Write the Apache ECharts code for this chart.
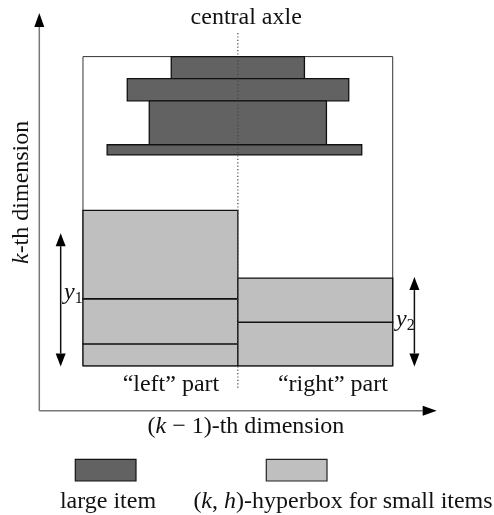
<!DOCTYPE html>
<html><head><meta charset="utf-8">
<script src="https://cdn.jsdelivr.net/npm/echarts@6/dist/echarts.min.js"></script>
<style>html,body{margin:0;padding:0;background:#fff}#c{width:494px;height:515px}</style>
</head><body><div id="c"></div>
<script>
// Diagram data (box coordinates: 0..100 in each dimension)
const box = [[0, 100, 0, 100]];
const axleX = 50;
const axleRange = [-7.1, 107.7];
// large items: [x0, x1, y0, y1]
const largeItems = [
  [28.5, 71.5, 92.9, 100],
  [14.3, 85.8, 85.7, 92.9],
  [21.4, 78.6, 71.5, 85.7],
  [7.8, 90.0, 68.2, 71.5]
];
// stacked small-item layers in the hyperbox (boundaries)
const leftStack = [0, 7.1, 21.7, 50.3];
const rightStack = [0, 14.1, 28.4];
// height arrows: [x, yBottom, yTop]
const heightArrows = [[-7.2, -0.2, 42.9], [107.0, -0.2, 28.7]];
// coordinate axes: [x0, y0, x1, y1]
const axesLines = [[-14.1, -14.5, 114.2, -14.5], [-14.1, -14.5, -14.1, 114.1]];
// text labels: [x, y, text, rotated]
const labelTexts = [
  [52.7, 112.5, 'central axle', 0],
  [28.4, -6.1, '\u201cleft\u201d part', 0],
  [80.7, -6.1, '\u201cright\u201d part', 0],
  [-3.1, 23.6, '{i|y}{s|1}', 0],
  [104.1, 14.9, '{i|y}{s|2}', 0],
  [52.6, -19.7, '({i|k} \u2212 1)-th dimension', 0],
  [-19.7, 56.1, '{i|k}-th dimension', 1]
];
const legendNames = ['large item', '({i|k}, {i|h})-hyperbox for small items'];

const DARK = '#626262', LIGHT = '#bfbfbf';
const FAM = '"Liberation Serif", "Times New Roman", "DejaVu Serif", serif', FS = 24;
const RICH = {
  i: {fontFamily: FAM, fontSize: FS, fontStyle: 'italic', fill: '#111'},
  s: {fontFamily: FAM, fontSize: 16, fill: '#111', verticalAlign: 'bottom', padding: [12, 0, 0, 0]}
};
function txtStyle(t) {
  return {text: t, fontFamily: FAM, fontSize: FS, fill: '#111', align: 'center', verticalAlign: 'middle', rich: RICH};
}

function stackRects(b, x0, x1) {
  const out = [];
  for (let i = 0; i < b.length - 1; i++) out.push([x0, x1, b[i], b[i + 1]]);
  return out;
}
const smallRects = stackRects(leftStack, 0, axleX).concat(stackRects(rightStack, axleX, 100));

function rectRender(fill, stroke, lw) {
  return function (params, api) {
    const p0 = api.coord([api.value(0), api.value(3)]);
    const p1 = api.coord([api.value(1), api.value(2)]);
    return {type: 'rect', shape: {x: p0[0], y: p0[1], width: p1[0] - p0[0], height: p1[1] - p0[1]},
      style: {fill: fill, stroke: stroke, lineWidth: lw}};
  };
}

function head(tip, dir, len, w) {
  const bx = tip[0] - dir[0] * len, by = tip[1] - dir[1] * len;
  const nx = -dir[1] * w / 2, ny = dir[0] * w / 2;
  return {type: 'polygon', shape: {points: [tip, [bx + nx, by + ny], [bx - nx, by - ny]]}, style: {fill: '#000'}};
}

const chart = echarts.init(document.getElementById('c'), null, {renderer: 'canvas'});
chart.setOption({
  animation: false,
  backgroundColor: '#fff',
  grid: {left: 39.3, right: 57.3, top: 13, bottom: 104.3},
  xAxis: {type: 'value', min: -14.1, max: 114.2, show: false},
  yAxis: {type: 'value', min: -14.5, max: 114.1, show: false},
  series: [
    {type: 'custom', clip: false, data: box, encode: {x: [0, 1], y: [2, 3]},
      renderItem: rectRender('#fff', '#333', 1), z: 1},
    {type: 'custom', clip: false, data: smallRects, encode: {x: [0, 1], y: [2, 3]},
      renderItem: rectRender(LIGHT, '#111', 1.3), z: 2},
    {type: 'custom', clip: false, data: largeItems, encode: {x: [0, 1], y: [2, 3]},
      renderItem: rectRender(DARK, '#111', 1.3), z: 3},
    {type: 'custom', clip: false, data: [[axleX, axleRange[0], axleRange[1]]], z: 4,
      renderItem: function (params, api) {
        const a = api.coord([api.value(0), api.value(1)]);
        const b = api.coord([api.value(0), api.value(2)]);
        return {type: 'line', shape: {x1: a[0], y1: a[1], x2: b[0], y2: b[1]},
          style: {stroke: '#444', lineWidth: 1.2, lineDash: [1.2, 2.2]}};
      }},
    {type: 'custom', clip: false, data: heightArrows, z: 5,
      renderItem: function (params, api) {
        const bot = api.coord([api.value(0), api.value(1)]);
        const top = api.coord([api.value(0), api.value(2)]);
        const L = 13, W = 10;
        return {type: 'group', children: [
          {type: 'line', shape: {x1: top[0], y1: top[1] + L, x2: bot[0], y2: bot[1] - L}, style: {stroke: '#111', lineWidth: 1.5}},
          head(top, [0, -1], L, W), head(bot, [0, 1], L, W)
        ]};
      }},
    {type: 'custom', clip: false, data: axesLines, z: 5,
      renderItem: function (params, api) {
        const a = api.coord([api.value(0), api.value(1)]);
        const b = api.coord([api.value(2), api.value(3)]);
        const dx = b[0] - a[0], dy = b[1] - a[1], d = Math.sqrt(dx * dx + dy * dy);
        const u = [dx / d, dy / d], L = 14, W = 10;
        return {type: 'group', children: [
          {type: 'line', shape: {x1: a[0], y1: a[1], x2: b[0] - u[0] * L, y2: b[1] - u[1] * L}, style: {stroke: '#777', lineWidth: 1.5}},
          head(b, u, L, W)
        ]};
      }},
    {type: 'custom', clip: false, data: labelTexts, z: 6,
      renderItem: function (params, api) {
        const row = labelTexts[params.dataIndex];
        const p = api.coord([row[0], row[1]]);
        return {type: 'text', x: p[0], y: p[1], rotation: row[3] ? Math.PI / 2 : 0, style: txtStyle(row[2])};
      }}
  ],
  graphic: [
    {type: 'rect', shape: {x: 75.3, y: 459.3, width: 60.7, height: 21.7}, style: {fill: DARK, stroke: '#111', lineWidth: 1.2}},
    {type: 'rect', shape: {x: 266.3, y: 459.3, width: 60.7, height: 21.7}, style: {fill: LIGHT, stroke: '#222', lineWidth: 1.2}},
    {type: 'text', x: 108, y: 502, style: txtStyle(legendNames[0])},
    {type: 'text', x: 343, y: 502, style: txtStyle(legendNames[1])}
  ]
});
</script></body></html>
